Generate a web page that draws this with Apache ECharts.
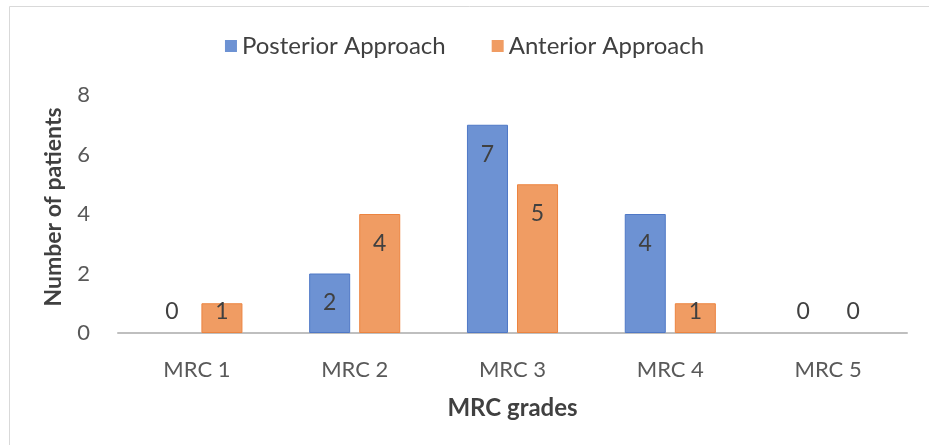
<!DOCTYPE html>
<html>
<head>
<meta charset="utf-8">
<script src="https://cdn.jsdelivr.net/npm/echarts@6/dist/echarts.min.js"></script>
<style>
  html, body { margin: 0; padding: 0; background: #ffffff; }
  #chart { width: 929px; height: 445px; }
</style>
</head>
<body>
<div id="chart"></div>
<script>
// MRC muscle strength grades and patient counts per surgical approach
const categories = ['MRC 1', 'MRC 2', 'MRC 3', 'MRC 4', 'MRC 5'];
const posteriorValues = [0, 2, 7, 4, 0];
const anteriorValues = [1, 4, 5, 1, 0];
const seriesNames = ['Posterior Approach', 'Anterior Approach'];
const yTicks = [0, 2, 4, 6, 8];

const FONT = 'Lato, "Open Sans", sans-serif';

// Short bars keep their value label just above the baseline; taller bars
// carry it inside, near the top. Empty bars get no outline.
function withLabels(values, edge) {
  return values.map(v => ({
    value: v,
    itemStyle: { borderColor: edge, borderWidth: v > 0 ? 1 : 0 },
    label: v >= 2
      ? { position: 'insideTop', distance: 18 }
      : { position: 'insideBottom', distance: 10 }
  }));
}

function barSeries(name, values, fill, edge) {
  return {
    name: name,
    type: 'bar',
    barWidth: '26%',
    barGap: '22%',
    data: withLabels(values, edge),
    itemStyle: { color: fill },
    label: {
      show: true,
      color: '#404040',
      fontFamily: FONT,
      fontSize: 23
    }
  };
}

const chart = echarts.init(document.getElementById('chart'), null, { renderer: 'canvas' });
chart.setOption({
  animation: false,
  backgroundColor: '#ffffff',
  graphic: [{
    type: 'rect',
    shape: { x: 9.5, y: 6.5, width: 960, height: 480 },
    style: { fill: 'none', stroke: '#d9d9d9', lineWidth: 1 },
    silent: true
  }],
  legend: {
    data: seriesNames,
    top: 29,
    left: 'center',
    itemWidth: 12,
    itemHeight: 12,
    itemGap: 46,
    icon: 'rect',
    textStyle: { color: '#404040', fontFamily: FONT, fontSize: 24 }
  },
  grid: { left: 118, right: 22, top: 95, bottom: 112 },
  xAxis: {
    type: 'category',
    data: categories,
    name: 'MRC grades',
    nameLocation: 'middle',
    nameGap: 63,
    nameMoveOverlap: false,
    nameTextStyle: { color: '#404040', fontFamily: FONT, fontSize: 24, fontWeight: 'bold' },
    axisLine: { lineStyle: { color: '#bfbfbf', width: 2 } },
    axisTick: { show: false },
    axisLabel: { color: '#595959', fontFamily: FONT, fontSize: 22, margin: 26 }
  },
  yAxis: {
    type: 'value',
    min: yTicks[0],
    max: yTicks[yTicks.length - 1],
    interval: 2,
    name: 'Number of patients',
    nameLocation: 'middle',
    nameGap: 53,
    nameMoveOverlap: false,
    nameTextStyle: { color: '#404040', fontFamily: FONT, fontSize: 23, fontWeight: 'bold', padding: [0, 0, 0, 14] },
    axisLine: { show: false },
    axisTick: { show: false },
    splitLine: { show: false },
    axisLabel: { color: '#595959', fontFamily: FONT, fontSize: 22, margin: 28 }
  },
  series: [
    barSeries(seriesNames[0], posteriorValues, '#6d92d3', '#4f78c6'),
    barSeries(seriesNames[1], anteriorValues, '#f09c63', '#ec8440')
  ]
});
</script>
</body>
</html>
